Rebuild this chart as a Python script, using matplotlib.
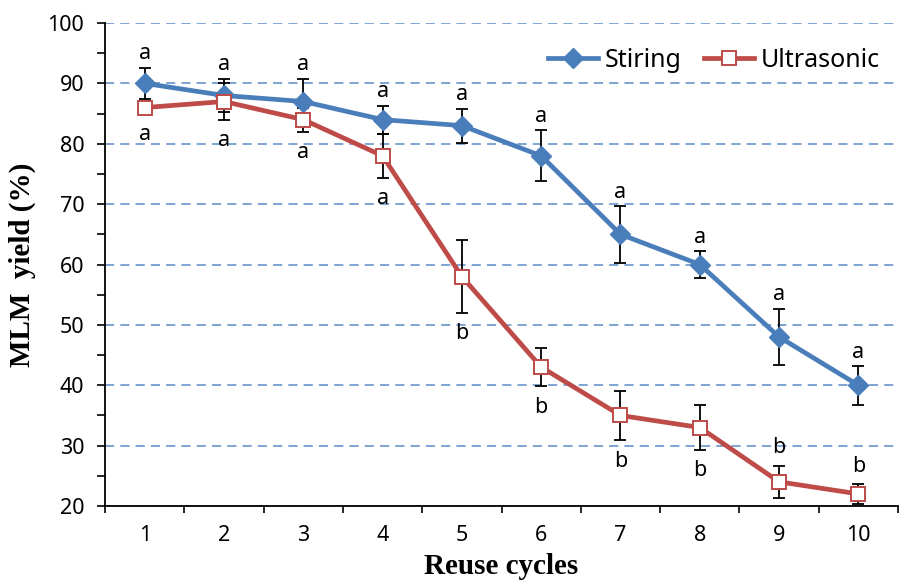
import matplotlib
matplotlib.use("Agg")
import matplotlib.pyplot as plt
from matplotlib.ticker import MultipleLocator, FixedLocator

cycles = [1, 2, 3, 4, 5, 6, 7, 8, 9, 10]

stiring = [90, 88, 87, 84, 83, 78, 65, 60, 48, 40]
stiring_err = [2.6, 2.8, 3.8, 2.3, 2.8, 4.2, 4.7, 2.2, 4.7, 3.2]
stiring_letters = ["a", "a", "a", "a", "a", "a", "a", "a", "a", "a"]

ultrasonic = [86, 87, 84, 78, 58, 43, 35, 33, 24, 22]
ultrasonic_err = [1.0, 3.0, 2.0, 3.6, 6.0, 3.2, 4.1, 3.7, 2.7, 1.6]
ultrasonic_letters = ["a", "a", "a", "a", "b", "b", "b", "b", "b", "b"]
ultrasonic_side = ["below"] * 8 + ["above"] * 2

blue = "#4A7EBB"
red = "#BE4B48"
tick_font = "Noto Sans"

fig = plt.figure(figsize=(9.04, 5.83), dpi=100)
ax = fig.add_axes([0.1162, 0.1321, 0.8772, 0.8284])

# error bars behind the lines
ax.errorbar(cycles, stiring, yerr=stiring_err, fmt="none", ecolor="black",
            elinewidth=1.3, capsize=4.2, capthick=1.3, zorder=2)
ax.errorbar(cycles, ultrasonic, yerr=ultrasonic_err, fmt="none", ecolor="black",
            elinewidth=1.3, capsize=4.2, capthick=1.3, zorder=2)

ax.plot(cycles, stiring, color=blue, lw=3.4, marker="D", ms=10.5,
        mfc=blue, mec=blue, label="Stiring", zorder=3)
ax.plot(cycles, ultrasonic, color=red, lw=3.4, marker="s", ms=9.5,
        mfc="white", mec=red, mew=1.4, label="Ultrasonic", zorder=3)

# significance letters
for x, y, e, t in zip(cycles, stiring, stiring_err, stiring_letters):
    ax.annotate(t, (x, y + e), xytext=(0, 10), textcoords="offset points",
                ha="center", va="center", fontsize=15.5, family=tick_font)
for x, y, e, t, s in zip(cycles, ultrasonic, ultrasonic_err, ultrasonic_letters, ultrasonic_side):
    if s == "below":
        ax.annotate(t, (x, y - e), xytext=(0, -15), textcoords="offset points",
                    ha="center", va="center", fontsize=15.5, family=tick_font)
    else:
        ax.annotate(t, (x, y + e), xytext=(0, 13), textcoords="offset points",
                    ha="center", va="center", fontsize=15.5, family=tick_font)

ax.set_xlim(0.5, 10.5)
ax.set_ylim(20, 100)
ax.xaxis.set_major_locator(FixedLocator([c + 0.5 for c in [0] + cycles]))
ax.xaxis.set_minor_locator(FixedLocator(cycles))
ax.set_xticklabels([])
ax.set_xticklabels([str(c) for c in cycles], minor=True)
ax.tick_params(axis="x", which="major", length=5, width=1.2, direction="out")
ax.tick_params(axis="x", which="minor", length=0, pad=14)
ax.yaxis.set_major_locator(MultipleLocator(10))
ax.yaxis.set_minor_locator(MultipleLocator(5))
ax.tick_params(axis="y", which="major", length=6, width=1.2, direction="out", pad=9)
ax.tick_params(axis="y", which="minor", length=6, width=1.2, direction="out")
for lab in ax.get_yticklabels() + ax.get_xticklabels(minor=True):
    lab.set_fontfamily(tick_font)
    lab.set_fontsize(15.5)

ax.yaxis.grid(True, which="major", color="#5B8CC8", linestyle=(0, (6, 4)), lw=1.1)
ax.set_axisbelow(True)

for sp in ["top", "right"]:
    ax.spines[sp].set_visible(False)
for sp in ["left", "bottom"]:
    ax.spines[sp].set_linewidth(1.3)

ax.set_xlabel("Reuse cycles", family="Liberation Serif", fontweight="bold",
              fontsize=21, labelpad=5)
ax.set_ylabel("MLM  yield (%)", family="Liberation Serif", fontweight="bold",
              fontsize=21, labelpad=8)

leg = ax.legend(loc="upper right", ncol=2, frameon=False,
                prop={"family": tick_font, "size": 18}, handlelength=2.0,
                columnspacing=0.9, handletextpad=0.25,
                bbox_to_anchor=(1.005, 0.995))

fig.savefig("out.png", dpi=100)
